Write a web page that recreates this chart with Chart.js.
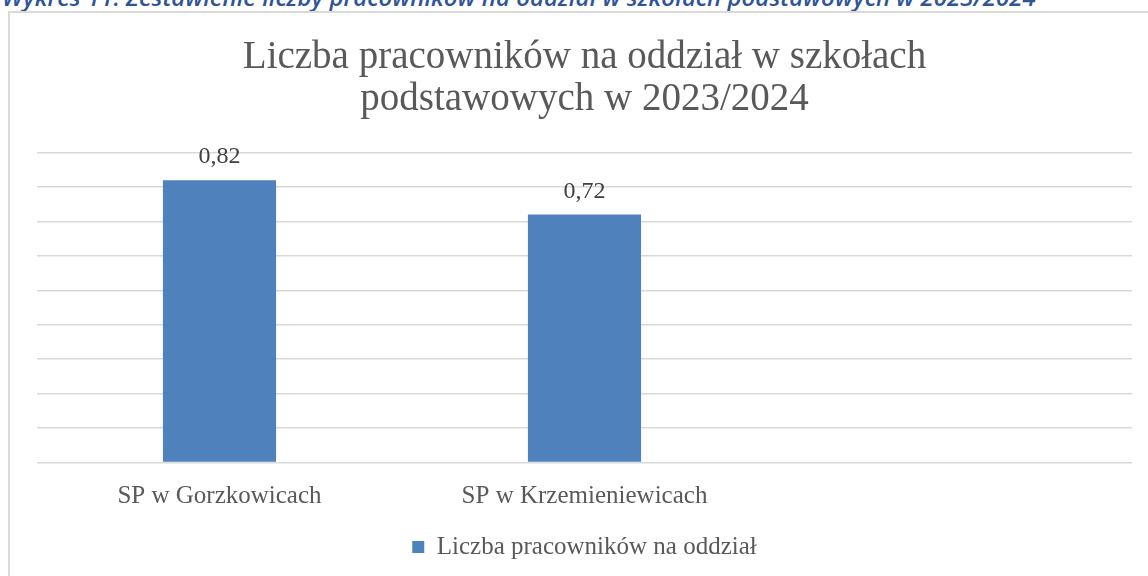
<!DOCTYPE html>
<html>
<head>
<meta charset="utf-8">
<script src="https://cdn.jsdelivr.net/npm/chart.js@4.4.1/dist/chart.umd.min.js"></script>
<style>
  html, body { margin: 0; padding: 0; background: #fff; overflow: hidden; }
  #caption {
    position: absolute; left: 2px; top: -20px; white-space: nowrap;
    font: italic 600 24px "Open Sans", sans-serif; color: #2f5597;
  }
  #frame {
    position: absolute; left: 8px; top: 11px; width: 1200px; height: 700px;
    border: 2px solid #d9d9d9; box-sizing: border-box;
  }
  #wrap { position: absolute; left: 0; top: 0; width: 1148px; height: 576px; }
</style>
</head>
<body>
<div id="caption">Wykres 11. Zestawienie liczby pracowników na oddział w szkołach podstawowych w 2023/2024</div>
<div id="frame"></div>
<div id="wrap"><canvas id="chart"></canvas></div>
<script>
// Data
const categories = ['SP w Gorzkowicach', 'SP w Krzemieniewicach', ''];
const values = [0.82, 0.72, null];
const seriesName = 'Liczba pracowników na oddział';
const titleLines = ['Liczba pracowników na oddział w szkołach', 'podstawowych w 2023/2024'];

const SERIF = '"Liberation Serif", serif';
const TEXT_COLOR = '#595959';

// value labels above bars, decimal comma
const valueLabels = {
  id: 'valueLabels',
  afterDatasetsDraw(chart) {
    const ctx = chart.ctx;
    const meta = chart.getDatasetMeta(0);
    ctx.save();
    ctx.font = '24px ' + SERIF;
    ctx.fillStyle = '#404040';
    ctx.textAlign = 'center';
    ctx.textBaseline = 'alphabetic';
    meta.data.forEach((bar, i) => {
      if (values[i] == null) return;
      ctx.fillText(values[i].toFixed(2).replace('.', ','), bar.x, bar.y - 17);
    });
    ctx.restore();
  }
};

new Chart(document.getElementById('chart'), {
  type: 'bar',
  data: {
    labels: categories,
    datasets: [{
      label: seriesName,
      data: values,
      backgroundColor: '#4f81bd',
      categoryPercentage: 1,
      barPercentage: 0.31
    }]
  },
  options: {
    responsive: true,
    maintainAspectRatio: false,
    animation: false,
    layout: { padding: { left: 37, right: 16, top: 0, bottom: 6.5 } },
    plugins: {
      title: {
        display: true,
        text: titleLines,
        color: TEXT_COLOR,
        font: { family: SERIF, size: 39, weight: 'normal', lineHeight: 1.08 },
        padding: { top: 37, bottom: 31.4 }
      },
      legend: {
        position: 'bottom',
        labels: {
          color: TEXT_COLOR,
          font: { family: SERIF, size: 25 },
          boxWidth: 12, boxHeight: 12,
          padding: 12
        }
      },
      tooltip: { enabled: false }
    },
    scales: {
      x: {
        grid: { display: false },
        border: { display: false },
        ticks: { color: TEXT_COLOR, font: { family: SERIF, size: 25 }, padding: 11 }
      },
      y: {
        min: 0, max: 0.9,
        ticks: { display: false, stepSize: 0.1 },
        grid: { color: '#d9d9d9', lineWidth: 1.5, drawTicks: false },
        border: { display: false }
      }
    }
  },
  plugins: [valueLabels]
});
</script>
</body>
</html>
